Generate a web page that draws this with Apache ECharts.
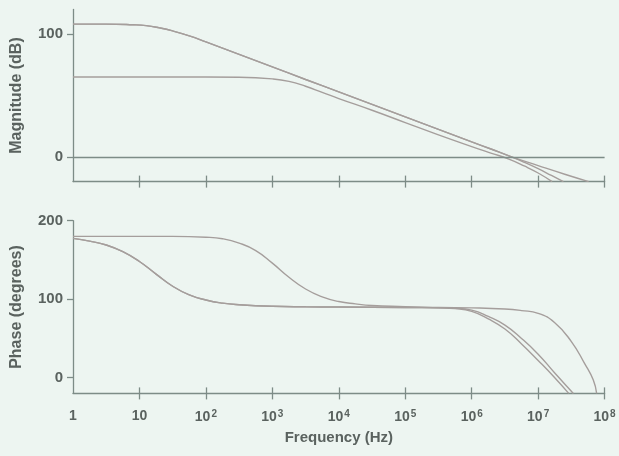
<!DOCTYPE html>
<html>
<head>
<meta charset="utf-8">
<script src="https://cdn.jsdelivr.net/npm/echarts@6/dist/echarts.min.js"></script>
<style>
  html, body { margin: 0; padding: 0; background: #edf5f1; }
  #chart { width: 619px; height: 456px; }
</style>
</head>
<body>
<div id="chart"></div>
<script>
// Frequency is plotted as log10(Hz): 0 -> 1 Hz, 8 -> 100 MHz.
const decades = [0, 1, 2, 3, 4, 5, 6, 7, 8];
const decadeBase = ['1', '10', '10', '10', '10', '10', '10', '10', '10'];
const decadeSup = ['', '', '2', '3', '4', '5', '6', '7', '8'];
const tickDecades = [1, 2, 3, 4, 5, 6, 7, 8];

const magTicks = [0, 100];
const phaseTicks = [0, 100, 200];

// Open-loop magnitude (dB) vs log10(f)
const magA = [[0, 108], [0.5, 108], [0.9, 107.5], [1.1, 106.8], [1.3, 105], [1.5, 102.5], [1.75, 98.5],
  [2, 93.6], [2.5, 83.5], [3, 73.3], [3.5, 63], [4, 53], [4.5, 42.8], [5, 32.6], [5.5, 22.5],
  [6, 12.3], [6.3, 6.3], [6.58, 0.5], [6.8, -4.5], [7.0, -9.5], [7.2, -15], [7.38, -20]];
const magB = [[0, 65], [1, 65], [2, 65], [2.5, 64.8], [3, 63.5], [3.25, 61.5], [3.5, 57.5], [3.75, 52.5],
  [4, 47.5], [4.5, 38], [5, 28], [5.5, 18], [6, 8.5], [6.3, 3], [6.55, -1.5], [6.8, -7.5],
  [7.0, -13], [7.21, -20]];
const magC = [[0, 108], [0.5, 108], [0.9, 107.5], [1.1, 106.8], [1.3, 105], [1.5, 102.5], [1.75, 98.5],
  [2, 93.6], [2.5, 83.5], [3, 73.3], [3.5, 63], [4, 53], [4.5, 42.8], [5, 32.6], [5.5, 22.5],
  [6, 12.3], [6.3, 6.3], [6.58, 0.5], [7.0, -7], [7.4, -14], [7.76, -20]];

// Phase (degrees) vs log10(f)
const phaseA = [[0, 177.5], [0.25, 174], [0.5, 169], [0.75, 160.5], [1.0, 148], [1.25, 132], [1.5, 116.5],
  [1.75, 105.5], [2.0, 99], [2.25, 95], [2.5, 93], [3, 91], [3.5, 90.3], [4, 90], [5, 89.5],
  [5.5, 89], [5.75, 88.5], [6.0, 86], [6.25, 78], [6.5, 67], [6.75, 50], [7.0, 30], [7.25, 6], [7.53, -20]];
const phaseB = [[0, 180], [1, 180], [1.5, 180], [2, 179], [2.25, 177], [2.5, 171.5], [2.75, 162],
  [3.0, 146], [3.25, 128], [3.5, 113], [3.75, 103], [4.0, 97], [4.25, 94], [4.5, 92], [5, 90.5],
  [5.5, 89], [5.75, 88], [6.0, 84.5], [6.25, 75], [6.5, 62], [6.75, 43], [7.0, 22], [7.25, 0], [7.46, -20]];
const phaseC = [[0, 177.5], [0.25, 174], [0.5, 169], [0.75, 160.5], [1.0, 148], [1.25, 132], [1.5, 116.5],
  [1.75, 105.5], [2.0, 99], [2.25, 95], [2.5, 93], [3, 91], [3.5, 90.3], [4, 90], [5, 89.5],
  [5.5, 89.5], [6.0, 89], [6.5, 87.5], [6.75, 85.5], [7.0, 82], [7.25, 70], [7.5, 46], [7.7, 18],
  [7.83, -3], [7.88, -20]];

const AXIS = '#7d8c87';
const TEXT = '#5a625f';
const CURVE = '#a59e9c';
const FONT = '"Liberation Sans", Arial, sans-serif';

const chart = echarts.init(document.getElementById('chart'), null, { renderer: 'canvas' });

function decadeLabel(v) {
  const i = Math.round(v);
  if (decadeSup[i]) return '{b|' + decadeBase[i] + '}{s|' + decadeSup[i] + '}';
  return '{b|' + decadeBase[i] + '}';
}

function topGrid() { return { left: 73, top: 9.4, width: 531.6, height: 172.2 }; }
function bottomGrid() { return { left: 73, top: 220.7, width: 531.6, height: 172.7 }; }

// Main frequency axis: line, outward ticks, and labels on the lower panel.
function freqAxis(gridIndex, withLabels) {
  return {
    type: 'value', gridIndex, min: 0, max: 8, interval: 1, position: 'bottom',
    splitLine: { show: false },
    axisLine: { show: true, onZero: false, lineStyle: { color: AXIS, width: 1.3 } },
    axisTick: { show: true, length: 6, inside: false, customValues: tickDecades,
      lineStyle: { color: AXIS, width: 1.3 } },
    axisLabel: withLabels ? {
      show: true, margin: 16, customValues: decades, formatter: decadeLabel,
      rich: {
        b: { fontFamily: FONT, fontSize: 14, fontWeight: 'bold', color: TEXT },
        s: { fontFamily: FONT, fontSize: 10, fontWeight: 'bold', color: TEXT, verticalAlign: 'top', padding: [0, 0, 6, 1] }
      }
    } : { show: false },
    name: withLabels ? 'Frequency (Hz)' : '',
    nameLocation: 'middle', nameGap: 37,
    nameTextStyle: { fontFamily: FONT, fontSize: 15, fontWeight: 'bold', color: TEXT }
  };
}

// Inner half of the decade ticks, so they straddle the axis line.
function innerTickAxis(gridIndex) {
  return {
    type: 'value', gridIndex, min: 0, max: 8, interval: 1, position: 'bottom',
    splitLine: { show: false },
    axisLine: { show: true, onZero: false, lineStyle: { color: AXIS, width: 1, opacity: 0 } },
    axisTick: { show: true, length: 6, inside: true, customValues: tickDecades,
      lineStyle: { color: AXIS, width: 1.3 } },
    axisLabel: { show: false }
  };
}

function yAxis(gridIndex, min, max, ticks, name) {
  return {
    type: 'value', gridIndex, min, max,
    splitLine: { show: false },
    axisLine: { show: true, onZero: false, lineStyle: { color: AXIS, width: 1.3 } },
    axisTick: { show: true, length: 6, inside: false, customValues: ticks, lineStyle: { color: AXIS, width: 1.3 } },
    axisLabel: { show: true, margin: 10, customValues: ticks, fontFamily: FONT, fontSize: 15, fontWeight: 'bold', color: TEXT },
    name, nameLocation: 'middle', nameGap: 48, nameRotate: 90,
    nameTextStyle: { fontFamily: FONT, fontSize: 16, fontWeight: 'bold', color: TEXT }
  };
}

function hiddenY(gridIndex, min, max) {
  return {
    type: 'value', gridIndex, min, max,
    axisLine: { show: false, onZero: false }, axisTick: { show: false }, axisLabel: { show: false }, splitLine: { show: false }
  };
}

function curve(data, xi, yi, extra) {
  return Object.assign({
    type: 'line', data, xAxisIndex: xi, yAxisIndex: yi,
    showSymbol: false, smooth: 0.5, silent: true,
    lineStyle: { color: CURVE, width: 1.4 }
  }, extra || {});
}

chart.setOption({
  backgroundColor: '#edf5f1',
  animation: false,
  grid: [topGrid(), bottomGrid(), topGrid(), bottomGrid()],
  xAxis: [freqAxis(0, false), freqAxis(1, true), innerTickAxis(2), innerTickAxis(3)],
  yAxis: [
    yAxis(0, -20, 120, magTicks, 'Magnitude (dB)'),
    yAxis(1, -20, 200, phaseTicks, 'Phase (degrees)'),
    hiddenY(2, -20, 120),
    hiddenY(3, -20, 200)
  ],
  series: [
    curve(magA, 0, 0, {
      markLine: {
        silent: true, symbol: ['none', 'none'], label: { show: false },
        lineStyle: { color: AXIS, width: 1.3, type: 'solid' },
        data: [{ yAxis: 0 }]
      }
    }),
    curve(magB, 0, 0),
    curve(magC, 0, 0),
    curve(phaseA, 1, 1),
    curve(phaseB, 1, 1),
    curve(phaseC, 1, 1),
    // Empty series so the tick-only axes are laid out.
    { type: 'line', data: [], xAxisIndex: 2, yAxisIndex: 2, silent: true },
    { type: 'line', data: [], xAxisIndex: 3, yAxisIndex: 3, silent: true }
  ]
});
</script>
</body>
</html>
